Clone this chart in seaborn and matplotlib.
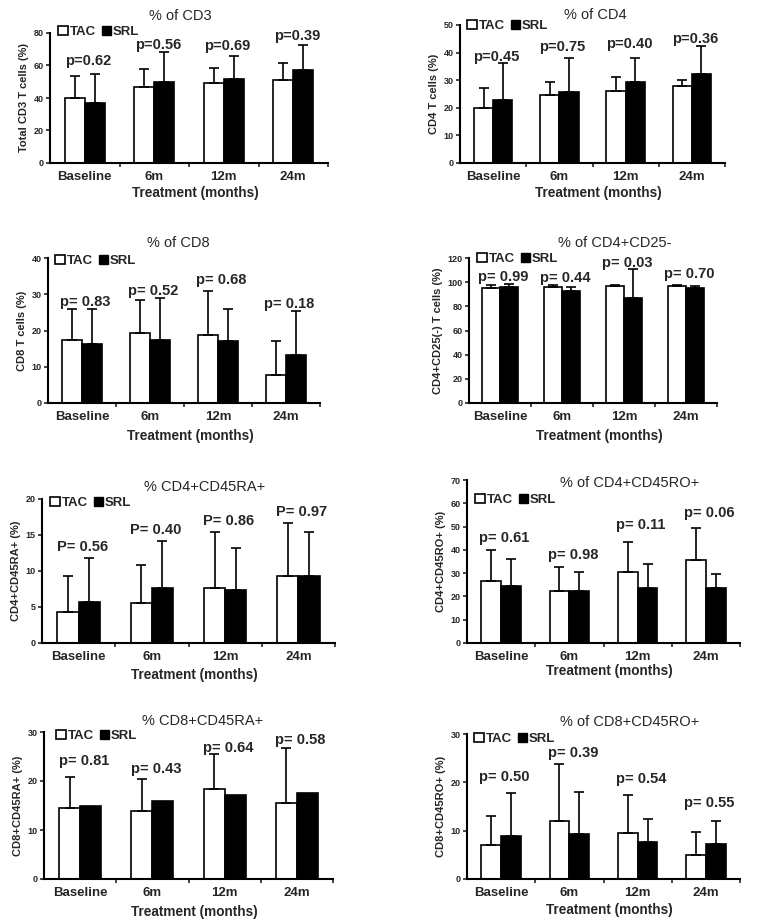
import pandas as pd
import seaborn as sns
import matplotlib.pyplot as plt
from matplotlib.patches import Patch

sns.set_style('ticks')
plt.rcParams['font.family'] = ['Liberation Sans', 'DejaVu Sans']
plt.rcParams['font.weight'] = 'bold'
plt.rcParams['axes.labelweight'] = 'bold'

months = ['Baseline', '6m', '12m', '24m']

# % of CD3
cd3_tac = [40, 47, 49.5, 51]
cd3_srl = [37, 50, 51.5, 57]
cd3_tac_sd = [13.5, 11, 9, 10.5]
cd3_srl_sd = [17.5, 18, 14.5, 15.5]
cd3_p = ['p=0.62', 'p=0.56', 'p=0.69', 'p=0.39']
cd3_p_y = [62.5, 72.8, 71.8, 78]

# % of CD4
cd4_tac = [20, 24.5, 26, 28]
cd4_srl = [23, 25.8, 29.2, 32.3]
cd4_tac_sd = [7, 5, 5, 2]
cd4_srl_sd = [13.2, 12.2, 8.8, 10]
cd4_p = ['p=0.45', 'p=0.75', 'p=0.40', 'p=0.36']
cd4_p_y = [38.5, 42.2, 43, 44.8]

# % of CD8
cd8_tac = [17.3, 19.3, 18.8, 7.8]
cd8_srl = [16.3, 17.3, 17.1, 13.2]
cd8_tac_sd = [8.7, 9.2, 12.2, 9.2]
cd8_srl_sd = [9.7, 11.7, 8.9, 12.1]
cd8_p = ['p= 0.83', 'p= 0.52', 'p= 0.68', 'p= 0.18']
cd8_p_y = [27.9, 31, 33.8, 27.4]

# % of CD4+CD25-
cd25_tac = [95.5, 96, 96.5, 97]
cd25_srl = [96, 93, 87, 95.5]
cd25_tac_sd = [2, 1.5, 1, 1]
cd25_srl_sd = [2.5, 3, 24, 1.5]
cd25_p = ['p= 0.99', 'p= 0.44', 'p= 0.03', 'p= 0.70']
cd25_p_y = [104, 103.4, 116, 107]

# % CD4+CD45RA+
cd4ra_tac = [4.3, 5.5, 7.7, 9.3]
cd4ra_srl = [5.7, 7.6, 7.3, 9.3]
cd4ra_tac_sd = [5, 5.4, 7.7, 7.3]
cd4ra_srl_sd = [6.1, 6.5, 5.9, 6.1]
cd4ra_p = ['P= 0.56', 'P= 0.40', 'P= 0.86', 'P= 0.97']
cd4ra_p_y = [13.3, 15.7, 17, 18.2]

# % of CD4+CD45RO+
cd4ro_tac = [26.5, 22.3, 30.7, 35.7]
cd4ro_srl = [24.5, 22.3, 23.5, 23.8]
cd4ro_tac_sd = [13.5, 10.2, 12.8, 13.8]
cd4ro_srl_sd = [11.7, 8, 10.5, 5.7]
cd4ro_p = ['p= 0.61', 'p= 0.98', 'p= 0.11', 'p= 0.06']
cd4ro_p_y = [45.3, 38, 50.5, 55.7]

# % CD8+CD45RA+
cd8ra_tac = [14.4, 13.9, 18.3, 15.5]
cd8ra_srl = [15, 16, 17.1, 17.5]
cd8ra_tac_sd = [6.5, 6.5, 7.2, 11.2]
cd8ra_srl_sd = [0, 0, 0, 0]
cd8ra_p = ['p= 0.81', 'p= 0.43', 'p= 0.64', 'p= 0.58']
cd8ra_p_y = [24, 22.4, 26.7, 28.3]

# % of CD8+CD45RO+
cd8ro_tac = [7.1, 11.9, 9.5, 5]
cd8ro_srl = [9, 9.3, 7.6, 7.3]
cd8ro_tac_sd = [5.9, 11.9, 7.8, 4.8]
cd8ro_srl_sd = [8.8, 8.7, 4.8, 4.7]
cd8ro_p = ['p= 0.50', 'p= 0.39', 'p= 0.54', 'p= 0.55']
cd8ro_p_y = [21, 26, 20.6, 15.8]

W, H = 764, 924

# panel: title, ylabel, ymax, ystep, data..., axes box px (l, t, r, b), title xy, legend xy, xlabel y
panels = [
    ('% of CD3', 'Total CD3 T cells (%)', 80, 20, cd3_tac, cd3_srl, cd3_tac_sd, cd3_srl_sd, cd3_p, cd3_p_y,
     (50, 33, 328, 163), (180, 16), (58, 32), 193),
    ('% of CD4', 'CD4 T cells (%)', 50, 10, cd4_tac, cd4_srl, cd4_tac_sd, cd4_srl_sd, cd4_p, cd4_p_y,
     (460, 25, 725, 163), (595, 15), (467, 26), 193),
    ('% of CD8', 'CD8 T cells (%)', 40, 10, cd8_tac, cd8_srl, cd8_tac_sd, cd8_srl_sd, cd8_p, cd8_p_y,
     (48, 258, 320, 403), (178, 243), (55, 261), 436),
    ('% of CD4+CD25-', 'CD4+CD25(-) T cells (%)', 120, 20, cd25_tac, cd25_srl, cd25_tac_sd, cd25_srl_sd, cd25_p, cd25_p_y,
     (469, 258, 717, 403), (615, 243), (477, 259), 436),
    ('% CD4+CD45RA+', 'CD4+CD45RA+ (%)', 20, 5, cd4ra_tac, cd4ra_srl, cd4ra_tac_sd, cd4ra_srl_sd, cd4ra_p, cd4ra_p_y,
     (42, 499, 335, 643), (205, 487), (50, 503), 675),
    ('% of CD4+CD45RO+', 'CD4+CD45RO+ (%)', 70, 10, cd4ro_tac, cd4ro_srl, cd4ro_tac_sd, cd4ro_srl_sd, cd4ro_p, cd4ro_p_y,
     (467, 480, 740, 643), (630, 483), (475, 500), 671),
    ('% CD8+CD45RA+', 'CD8+CD45RA+ (%)', 30, 10, cd8ra_tac, cd8ra_srl, cd8ra_tac_sd, cd8ra_srl_sd, cd8ra_p, cd8ra_p_y,
     (44, 732, 333, 879), (203, 721), (56, 736), 912),
    ('% of CD8+CD45RO+', 'CD8+CD45RO+ (%)', 30, 10, cd8ro_tac, cd8ro_srl, cd8ro_tac_sd, cd8ro_srl_sd, cd8ro_p, cd8ro_p_y,
     (467, 734, 740, 879), (630, 722), (474, 739), 910),
]

fig = plt.figure(figsize=(W / 100, H / 100), dpi=100)

for (title, ylab, ymax, ystep, tac, srl, tac_sd, srl_sd, ptxt, py,
     box, txy, lxy, xly) in panels:
    l, t, r, b = box
    ax = fig.add_axes([l / W, 1 - b / H, (r - l) / W, (b - t) / H])
    df = pd.DataFrame({'month': months * 2,
                       'group': ['TAC'] * 4 + ['SRL'] * 4,
                       'value': list(tac) + list(srl)})
    sns.barplot(data=df, x='month', y='value', hue='group', order=months,
                hue_order=['TAC', 'SRL'], palette={'TAC': 'white', 'SRL': 'black'},
                edgecolor='black', linewidth=1.2, width=0.58, gap=0,
                errorbar=None, legend=False, ax=ax)
    # upper-only error bars
    for cont, means, sds in zip(ax.containers, [tac, srl], [tac_sd, srl_sd]):
        for bar, m, s in zip(cont, means, sds):
            if s <= 0:
                continue
            x = bar.get_x() + bar.get_width() / 2
            ax.errorbar(x, m, yerr=[[0], [s]], fmt='none', ecolor='black',
                        elinewidth=1.2, capsize=3.5, capthick=1.2)
    for i, (txt, y) in enumerate(zip(ptxt, py)):
        ax.text(i + 0.05, y, txt, ha='center', va='center', fontsize=10.5, fontweight='bold')
    ax.set_xlim(-0.5, 3.5)
    ax.set_ylim(0, ymax)
    ax.set_yticks(range(0, ymax + 1, ystep))
    ax.set_xticks([0.5, 1.5, 2.5, 3.5], minor=True)
    ax.tick_params(axis='x', which='major', length=0, labelsize=9.5, pad=6)
    ax.tick_params(axis='x', which='minor', length=3, width=1.2, direction='out')
    ax.tick_params(axis='y', length=3, width=1.2, labelsize=6.5, pad=1.5)
    for lab in ax.get_xticklabels() + ax.get_yticklabels():
        lab.set_fontweight('bold')
    sns.despine(ax=ax)
    for sp in ['left', 'bottom']:
        ax.spines[sp].set_linewidth(1.5)
        ax.spines[sp].set_color('black')
    ax.set_ylabel(ylab, fontsize=8, fontweight='bold', labelpad=3)
    ax.set_xlabel('Treatment (months)', fontsize=9.8, fontweight='bold')
    ax.xaxis.set_label_coords(0.5 + 6 / (r - l), (b - xly) / (b - t))
    ax.xaxis.label.set_verticalalignment('center')
    fig.text(txy[0] / W, 1 - txy[1] / H, title, ha='center', va='center',
             fontsize=10.5, fontweight='normal')
    handles = [Patch(facecolor='white', edgecolor='black', linewidth=1.2, label='TAC'),
               Patch(facecolor='black', edgecolor='black', label='SRL')]
    ax.legend(handles=handles, loc='center left', bbox_to_anchor=(lxy[0] / W, 1 - lxy[1] / H),
              bbox_transform=fig.transFigure, ncol=2, frameon=False,
              handlelength=0.75, handleheight=0.75, handletextpad=0.12, columnspacing=0.45,
              borderpad=0, borderaxespad=0, prop={'weight': 'bold', 'size': 9.5})

fig.savefig('out.png', dpi=100, facecolor='white')
